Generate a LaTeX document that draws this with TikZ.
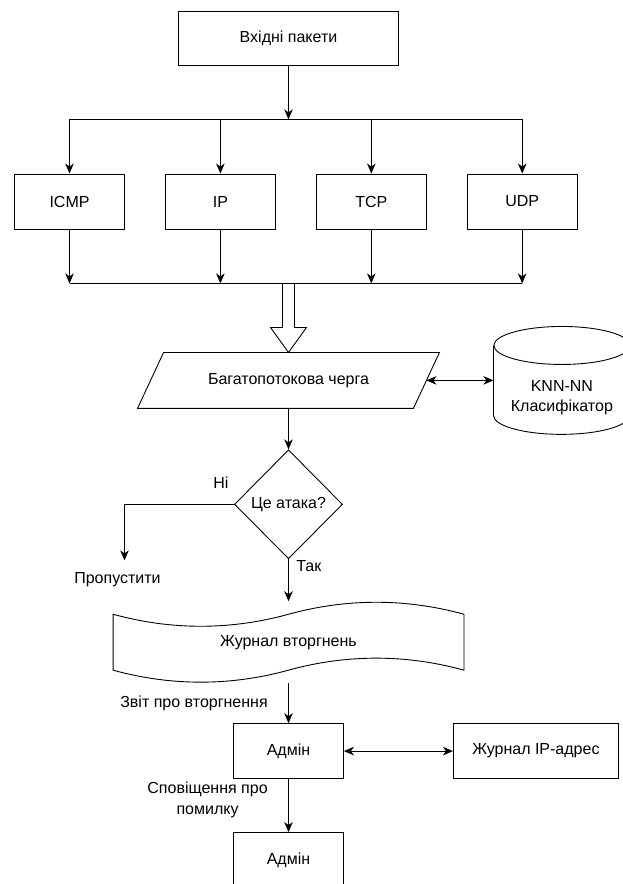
\documentclass[tikz,border=0pt]{standalone}
\usepackage{fontspec}
\setmainfont{Liberation Sans}
\usetikzlibrary{
  arrows.meta,
  calc,
  positioning,
  shapes.geometric,
}

\begin{document}
\begin{tikzpicture}[
    font=\fontsize{16}{20.5}\selectfont,
    line width=0.9pt,
    >={Stealth[length=10pt,width=8.5pt,inset=3pt]},
    box/.style={draw, rectangle, minimum width=110pt, minimum height=55pt, inner sep=0pt},
    queueframe/.style={rectangle, minimum width=275pt, minimum height=55pt, inner sep=0pt},
    decision/.style={draw, diamond, minimum width=108pt, minimum height=109pt, inner sep=0pt},
    logframe/.style={rectangle, minimum width=350pt, minimum height=55pt, inner sep=0pt},
  ]
      \useasboundingbox (0,0) rectangle (622pt,-884pt);
      \node [box, minimum width=220pt, minimum height=54pt] (src) at (288.5pt,-38pt) {Вхідні пакети};
      \coordinate [below=54pt of src] (busA);
      \node [box] (icmp) at (69.5pt,-201.5pt) {ICMP};
      \node [box, right=40pt of icmp] (ip) {IP};
      \node [box, right=40pt of ip] (tcp) {TCP};
      \node [box, right=40pt of tcp] (udp) {UDP};
      \coordinate (busB) at ($(icmp.south -| src)+(0,-54pt)$);
      \draw [->] (src) -- (busA);
      \draw (icmp |- busA) -- (udp |- busA);
      \draw [->] (icmp |- busA) -- (icmp);
      \draw [->] (ip |- busA) -- (ip);
      \draw [->] (tcp |- busA) -- (tcp);
      \draw [->] (udp |- busA) -- (udp);
      \draw [->] (icmp) -- (icmp |- busB);
      \draw [->] (ip) -- (ip |- busB);
      \draw [->] (tcp) -- (tcp |- busB);
      \draw [->] (udp) -- (udp |- busB);
      \draw (icmp |- busB) -- (udp |- busB);
      \node [queueframe, below=69pt of busB] (queue) {Багатопотокова черга};
      % slanted queue box
      \draw ([xshift=13pt]queue.north west) -- ([xshift=13pt]queue.north east)
        -- ([xshift=-13pt]queue.south east) -- ([xshift=-13pt]queue.south west) -- cycle;
      % hollow arrow into the queue
      \draw ([xshift=-6pt]busB) -- ++(0,-44pt) -- ++(-12pt,0) -- (queue.north)
        -- ++(18pt,25pt) -- ++(-12pt,0) -- ([xshift=6pt]busB);
      \node [right=67pt of queue, minimum width=136pt, minimum height=107pt, inner sep=0pt] (knn) {};
      \draw ([yshift=-19pt]knn.north) ellipse [x radius=68pt, y radius=19pt];
      \draw ([yshift=-19pt]knn.north west) -- ([yshift=19pt]knn.south west)
        arc [start angle=180, end angle=360, x radius=68pt, y radius=19pt] -- ([yshift=-19pt]knn.north east);
      \node [align=center] (knntext) at ([yshift=-17pt]knn.center) {KNN-NN\\Класифікатор};
      \draw [<->] (queue.east) -- (knn.west);
      \node [decision, below=41pt of queue] (dec) {Це атака?};
      \draw [->] (queue) -- (dec);
      \node (skip) at ($(dec.center)+(-171pt,-75pt)$) {Пропустити};
      \draw [->] (dec.west) -| node [pos=0.06, above=12pt] (no) {Ні} ([xshift=7pt,yshift=8pt]skip.north);
      \node [logframe, below=55pt of dec] (log) {Журнал вторгнень};
      % wavy tape round the log
      \draw (log.north west) .. controls +(58pt,-16pt) and +(-58pt,-16pt) .. (log.north)
        .. controls +(58pt,16pt) and +(-58pt,16pt) .. (log.north east) -- (log.south east)
        .. controls +(-58pt,16pt) and +(58pt,16pt) .. (log.south)
        .. controls +(-58pt,-16pt) and +(58pt,-16pt) .. (log.south west) -- cycle;
      \draw [->] (dec) -- node [pos=0.17, right=4pt] (yes) {Так} ([yshift=13pt]log.north);
      \node [box, below=53pt of log] (adm) {Адмін};
      \draw [->] ([yshift=-13pt]log.south) -- node [midway, left=17pt] (rep) {Звіт про вторгнення} (adm);
      \node [box, right=109pt of adm, minimum width=165pt] (iplog) {Журнал IP-адрес};
      \draw [<->] (adm) -- (iplog);
      \node [box, below=53pt of adm] (adm2) {Адмін};
      \draw [->] (adm) -- node [pos=0.39, left=17pt, align=center] (err) {Сповіщення про\\помилку} (adm2);
    \end{tikzpicture}
\end{document}
